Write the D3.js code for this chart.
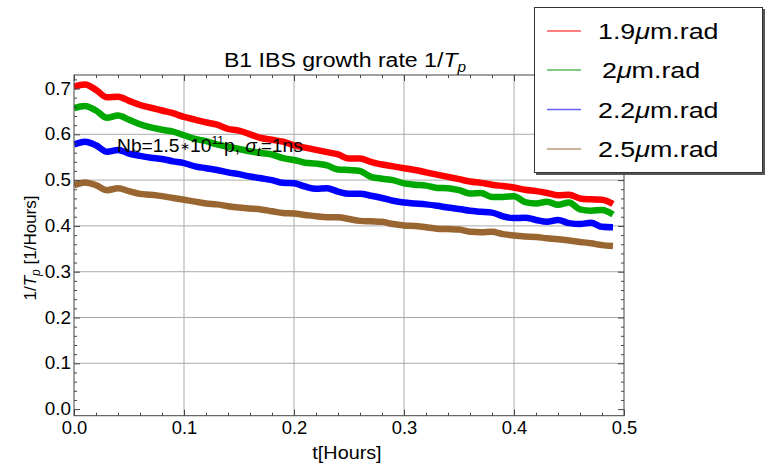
<!DOCTYPE html>
<html>
<head>
<meta charset="utf-8">
<script src="https://cdn.jsdelivr.net/npm/d3@7/dist/d3.min.js"></script>
<style>
  body { margin: 0; background: #fff; }
  text { font-family: "Liberation Sans", Arial, sans-serif; fill: #000; }
  .wide { transform-box: fill-box; transform-origin: center; }
  .wide-l { transform-box: fill-box; transform-origin: left center; }
  .wide-r { transform-box: fill-box; transform-origin: right center; }
</style>
</head>
<body>
<svg id="chart" width="765" height="464"></svg>
<script>
// Time in hours
const time = [0.00,0.01,0.02,0.03,0.04,0.05,0.06,0.07,0.08,0.09,
              0.10,0.11,0.12,0.13,0.14,0.15,0.16,0.17,0.18,0.19,
              0.20,0.21,0.22,0.23,0.24,0.25,0.26,0.27,0.28,0.29,
              0.30,0.31,0.32,0.33,0.34,0.35,0.36,0.37,0.38,0.39,
              0.40,0.41,0.42,0.43,0.44,0.45,0.46,0.47,0.48,0.49];

// Growth rate 1/Tp [1/Hours] for each emittance
const rate19 = [0.704,0.709,0.697,0.681,0.682,0.673,0.664,0.658,0.652,0.646,
                0.638,0.632,0.626,0.621,0.612,0.608,0.600,0.592,0.588,0.584,
                0.576,0.571,0.566,0.561,0.556,0.547,0.547,0.540,0.534,0.530,
                0.526,0.522,0.517,0.512,0.507,0.502,0.497,0.494,0.490,0.487,
                0.484,0.479,0.476,0.472,0.467,0.468,0.460,0.458,0.457,0.448];
const rate20 = [0.657,0.662,0.652,0.636,0.641,0.632,0.622,0.615,0.610,0.606,
                0.598,0.590,0.585,0.578,0.573,0.568,0.563,0.559,0.556,0.548,
                0.544,0.538,0.536,0.532,0.523,0.522,0.520,0.507,0.503,0.500,
                0.493,0.490,0.488,0.483,0.482,0.478,0.471,0.472,0.463,0.463,
                0.465,0.452,0.449,0.453,0.446,0.451,0.436,0.433,0.435,0.425];
const rate22 = [0.578,0.584,0.576,0.562,0.566,0.558,0.553,0.549,0.546,0.541,
                0.537,0.530,0.526,0.522,0.517,0.513,0.508,0.504,0.500,0.494,
                0.493,0.486,0.481,0.482,0.475,0.470,0.470,0.466,0.461,0.455,
                0.451,0.449,0.447,0.444,0.440,0.437,0.433,0.431,0.429,0.421,
                0.417,0.418,0.413,0.409,0.413,0.406,0.404,0.407,0.398,0.397];
const rate25 = [0.489,0.495,0.489,0.478,0.482,0.476,0.470,0.468,0.465,0.461,
                0.457,0.453,0.449,0.447,0.443,0.440,0.438,0.436,0.432,0.428,
                0.427,0.424,0.421,0.419,0.419,0.415,0.411,0.410,0.409,0.404,
                0.401,0.400,0.397,0.394,0.393,0.392,0.387,0.386,0.387,0.382,
                0.379,0.377,0.376,0.373,0.371,0.368,0.365,0.362,0.358,0.356];

const emittances = ["1.9", "2", "2.2", "2.5"];
const colors = ["#ff0000", "#00a800", "#0000ff", "#996633"];
const keyColors = ["#ff5555", "#55bb55", "#6666ff", "#b99a7a"];

const xTicks = [0.0, 0.1, 0.2, 0.3, 0.4, 0.5];
const yTicks = [0.0, 0.1, 0.2, 0.3, 0.4, 0.5, 0.6, 0.7];
const xGrid = [0.1, 0.2, 0.3, 0.4];
const yGrid = [0.1, 0.2, 0.3, 0.4, 0.5, 0.6];

const series = [rate19, rate20, rate22, rate25].map((vals, i) => ({
  name: emittances[i], color: colors[i], key: keyColors[i],
  points: vals.map((v, j) => [time[j], v])
}));

const svg = d3.select("#chart");
const L = 74, R = 624, T = 75, B = 415.7;
const x = d3.scaleLinear().domain([0, 0.5]).range([L, R]);
const y = d3.scaleLinear().domain([-0.0144, 0.7295]).range([B, T]);

const defs = svg.append("defs");
defs.append("filter").attr("id", "soft")
  .append("feGaussianBlur").attr("stdDeviation", 0.55);
defs.append("clipPath").attr("id", "plotClip")
  .append("rect").attr("x", L).attr("y", T).attr("width", R - L).attr("height", B - T);

// grid
const grid = svg.append("g").attr("stroke", "#ababab").attr("stroke-width", 1);
grid.selectAll(".gx").data(xGrid).join("line")
  .attr("x1", d => x(d)).attr("x2", d => x(d)).attr("y1", T).attr("y2", B);
grid.selectAll(".gy").data(yGrid).join("line")
  .attr("x1", L).attr("x2", R).attr("y1", d => y(d)).attr("y2", d => y(d));

// curves
const line = d3.line().x(d => x(d[0])).y(d => y(d[1])).curve(d3.curveMonotoneX);
svg.append("g").attr("clip-path", "url(#plotClip)").attr("filter", "url(#soft)")
  .selectAll("path").data(series).join("path")
  .attr("d", d => line(d.points))
  .attr("fill", "none").attr("stroke", d => d.color)
  .attr("stroke-width", 6.5).attr("stroke-linejoin", "round").attr("stroke-linecap", "butt");

// frame ticks (pointing inward on all four sides)
const minorX = d3.range(0, 0.5001, 0.02).filter(v => Math.abs(v * 10 - Math.round(v * 10)) > 1e-6);
const minorY = d3.range(0, 0.7295, 0.02).filter(v => Math.abs(v * 10 - Math.round(v * 10)) > 1e-6);
const fmt = d3.format(".1f");

function styleAxis(g) {
  g.select(".domain").remove();
  g.selectAll(".tick line").attr("stroke", "#444");
  g.selectAll(".tick text").attr("font-size", 17.5).attr("fill", "#000")
    .style("font-family", '"Liberation Sans", Arial, sans-serif');
}

svg.append("g").attr("transform", `translate(0,${B})`)
  .call(d3.axisBottom(x).tickValues(xTicks).tickFormat(fmt).tickSize(-6).tickPadding(5.5)).call(styleAxis)
  .selectAll(".tick text").attr("class", "wide").style("transform", "scaleX(1.05)");
svg.append("g").attr("transform", `translate(0,${B})`)
  .call(d3.axisBottom(x).tickValues(minorX).tickFormat("").tickSize(-3)).call(styleAxis);
svg.append("g").attr("transform", `translate(0,${T})`)
  .call(d3.axisTop(x).tickValues(xTicks).tickFormat("").tickSize(-6)).call(styleAxis);
svg.append("g").attr("transform", `translate(0,${T})`)
  .call(d3.axisTop(x).tickValues(minorX).tickFormat("").tickSize(-3)).call(styleAxis);

svg.append("g").attr("transform", `translate(${L},0)`)
  .call(d3.axisLeft(y).tickValues(yTicks).tickFormat(fmt).tickSize(-6).tickPadding(3)).call(styleAxis)
  .selectAll(".tick text").attr("class", "wide-r").style("transform", "scaleX(1.08)");
svg.append("g").attr("transform", `translate(${L},0)`)
  .call(d3.axisLeft(y).tickValues(minorY).tickFormat("").tickSize(-3)).call(styleAxis);
svg.append("g").attr("transform", `translate(${R},0)`)
  .call(d3.axisRight(y).tickValues(yTicks).tickFormat("").tickSize(-6)).call(styleAxis);
svg.append("g").attr("transform", `translate(${R},0)`)
  .call(d3.axisRight(y).tickValues(minorY).tickFormat("").tickSize(-3)).call(styleAxis);

// frame
svg.append("rect").attr("x", L).attr("y", T).attr("width", R - L).attr("height", B - T)
  .attr("fill", "none").attr("stroke", "#444").attr("stroke-width", 1);

// axis titles
svg.append("text").attr("x", 347).attr("y", 459).attr("text-anchor", "middle")
  .attr("font-size", 18).attr("class", "wide").style("transform", "scaleX(1.1)")
  .text("t[Hours]");

const yl = svg.append("text").attr("transform", "translate(36,248) rotate(-90)")
  .attr("text-anchor", "middle").attr("font-size", 17);
yl.append("tspan").text("1/");
yl.append("tspan").attr("font-style", "italic").text("T");
yl.append("tspan").attr("font-style", "italic").attr("font-size", 12).attr("dy", 4).text("p");
yl.append("tspan").attr("dy", -4).text(" [1/Hours]");

// title
const title = svg.append("text").attr("x", 345).attr("y", 67).attr("text-anchor", "middle")
  .attr("font-size", 21).attr("class", "wide").style("transform", "scaleX(1.1)");
title.append("tspan").text("B1 IBS growth rate 1/");
title.append("tspan").attr("font-style", "italic").text("T");
title.append("tspan").attr("font-style", "italic").attr("font-size", 14).attr("dy", 5).text("p");

// annotation
const note = svg.append("text").attr("x", 117).attr("y", 152).attr("font-size", 17.5)
  .attr("class", "wide-l").style("transform", "scaleX(1.1)");
note.append("tspan").text("Nb=1.5");
note.append("tspan").attr("font-size", 11).attr("dy", -2).text("\u2217");
note.append("tspan").attr("dy", 2).text("10");
note.append("tspan").attr("font-size", 11).attr("dy", -8).text("11");
note.append("tspan").attr("dy", 8).text("p, ");
note.append("tspan").attr("font-style", "italic").text("\u03C3");
note.append("tspan").attr("font-style", "italic").attr("font-size", 12).attr("dy", 4).text("t");
note.append("tspan").attr("dy", -4).text("=1ns");

// legend
const lg = svg.append("g");
lg.append("rect").attr("x", 536).attr("y", 9).attr("width", 229).attr("height", 166).attr("fill", "#555");
lg.append("rect").attr("x", 534.5).attr("y", 7.5).attr("width", 228).attr("height", 165)
  .attr("fill", "#fff").attr("stroke", "#333").attr("stroke-width", 1);
const rows = lg.selectAll(".row").data(series).join("g")
  .attr("transform", (d, i) => `translate(0,${[31, 70, 109.5, 149][i]})`);
rows.append("line").attr("x1", 547).attr("x2", 581).attr("y1", 0).attr("y2", 0)
  .attr("stroke", d => d.key).attr("stroke-width", 1.5);
const lt = rows.append("text").attr("x", (d, i) => i === 1 ? 602 : 598).attr("y", 8)
  .attr("font-size", 22).attr("class", "wide-l").style("transform", "scaleX(1.22)");
lt.append("tspan").text(d => d.name);
lt.append("tspan").attr("font-style", "italic").text("\u03BC");
lt.append("tspan").text("m.rad");
</script>
</body>
</html>
